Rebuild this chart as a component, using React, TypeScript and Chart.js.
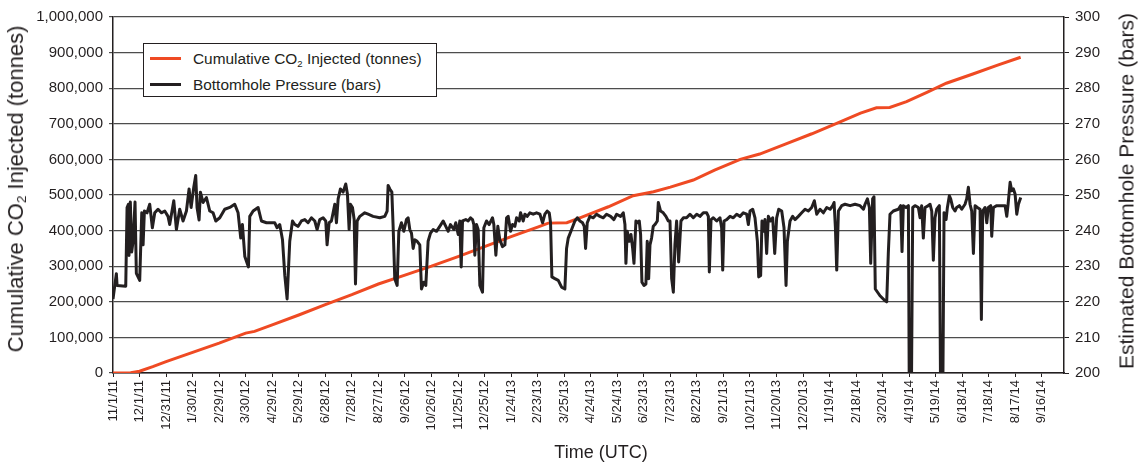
import React, { useEffect, useRef } from "react";
import { Chart, registerables } from "chart.js";

Chart.register(...registerables);

// x tick labels, one every 30 days starting 11/1/11 (day 0)
const xTickLabels = [
  "11/1/11", "12/1/11", "12/31/11", "1/30/12", "2/29/12", "3/30/12", "4/29/12", "5/29/12",
  "6/28/12", "7/28/12", "8/27/12", "9/26/12", "10/26/12", "11/25/12", "12/25/12", "1/24/13",
  "2/23/13", "3/25/13", "4/24/13", "5/24/13", "6/23/13", "7/23/13", "8/22/13", "9/21/13",
  "10/21/13", "11/20/13", "12/20/13", "1/19/14", "2/18/14", "3/20/14", "4/19/14", "5/19/14",
  "6/18/14", "7/18/14", "8/17/14", "9/16/14",
];

// Cumulative CO2 injected: [days since 11/1/11, tonnes]
const co2Series: [number, number][] = [
  [0, 0], [20, 1000], [30, 5000], [45, 18000], [60, 32000], [90, 58000], [120, 84000],
  [150, 112000], [160, 117000], [180, 135000], [210, 163000], [240, 192000], [270, 220000],
  [300, 250000], [330, 275000], [360, 300000], [390, 327000], [420, 355000], [450, 383000],
  [480, 410000], [492, 421000], [513, 422000], [530, 438000], [560, 467000], [588, 498000],
  [611, 509000], [630, 522000], [656, 542000], [680, 570000], [709, 600000], [731, 615000],
  [760, 643000], [790, 672000], [818, 701000], [845, 730000], [863, 745000], [878, 746000],
  [897, 762000], [920, 788000], [942, 814000], [972, 840000], [1000, 865000], [1026, 887000],
];

// Bottomhole pressure: [days since 11/1/11, bars]
const pressureSeries: [number, number][] = [
  [0, 220.8], [3.8, 227.9], [4.6, 224.6], [14.4, 224.4], [15.9, 246.5], [17.4, 247.4], [18.1, 233],
  [19.6, 248], [21.1, 234], [22.7, 237], [24.9, 248], [26.4, 228], [30.2, 226], [32.5, 245], [34, 236],
  [35.5, 245.5], [38.5, 245], [41.5, 247.4], [44.5, 240.8], [47.2, 245], [50.9, 246], [54.7, 245],
  [58.5, 245.5], [62.2, 244], [64.1, 241.7], [68.7, 248.4], [71.7, 240.3], [75.4, 246], [79.2, 242.7],
  [83, 245.5], [86, 251.7], [88.3, 246.5], [91.3, 252.2], [93.5, 255.5], [95, 246.5], [97.3, 243],
  [98.8, 250.8], [101.8, 247.9], [105.6, 249.3], [109.4, 245.5], [113.1, 245], [116.2, 242.7],
  [120.7, 243.6], [126.3, 246], [132, 246.5], [137.6, 247.4], [141.4, 245], [144.4, 237.9],
  [146.3, 241.7], [149, 232.7], [153.1, 229.8], [154.6, 244], [158.4, 245.5], [164, 246.5],
  [167.8, 242.7], [173.5, 242.2], [182.9, 242.2], [185.5, 240.8], [188.5, 241.7], [191.6, 237.4],
  [194.2, 227.4], [196.8, 220.8], [199.8, 237], [202.9, 242.7], [205.5, 241.7], [209.3, 241.2],
  [213, 242.7], [216.8, 243.1], [220.5, 242.2], [224.3, 243.6], [228.1, 242.7], [230.7, 240.3],
  [233.7, 243.1], [237.5, 243.6], [240.5, 242.7], [242, 236], [244.3, 242.2], [246.9, 242.7],
  [248.8, 245], [250.7, 247.4], [252.6, 242.2], [254.5, 248.9], [257.1, 251.7], [260.1, 250.8],
  [263.1, 253.1], [265, 250.3], [266.9, 240.3], [268.4, 247.4], [270.7, 246.5], [272.6, 243.1],
  [274.1, 225], [276, 242.7], [279, 244], [284.6, 245], [288.4, 244.6], [294, 244], [301.6, 243.6],
  [307.2, 244], [309.9, 245.5], [311, 252.7], [312.9, 251.7], [315.2, 250.8], [316.7, 240.8],
  [318.5, 226.5], [321.2, 224.6], [323.1, 239.8], [326.1, 242.2], [328.7, 239.8], [331.7, 243.1],
  [333.6, 243.6], [335.5, 240.3], [337.4, 239.3], [339.3, 235], [341.2, 237.4], [343.8, 237],
  [346.8, 236], [348.7, 223.6], [351.3, 225.5], [353.6, 224.6], [356.2, 237], [358.9, 239.3],
  [361.9, 240.3], [365.7, 239.8], [369.4, 241.2], [373.2, 242.7], [376.2, 241.2], [378.9, 239.8],
  [381.5, 241.7], [385.3, 240.3], [387.5, 242.2], [390.2, 238.9], [392, 242.7], [393.6, 229.8],
  [395.1, 242.7], [398.8, 243.1], [401.5, 242.7], [404.1, 243.6], [406.4, 243.1], [407.9, 241.7],
  [409, 233.1], [410.9, 241.7], [412.8, 240.3], [414.7, 224.6], [417.7, 222.7], [419.2, 240.8],
  [422.2, 242.7], [425.2, 241.7], [429, 243.6], [430.5, 241.7], [432.8, 233.1], [435, 241.2],
  [437.3, 237.4], [440.3, 235.5], [443, 236], [444.9, 243.6], [446.7, 244], [449.4, 239.8],
  [451.6, 241.7], [454.3, 241.2], [456.2, 243.6], [459.2, 242.7], [460.7, 245], [463.7, 242.7],
  [465.6, 244.6], [468.2, 244], [471.2, 245], [475, 244.6], [478.8, 245], [482.6, 244.6],
  [485.6, 242.2], [488.2, 244.6], [490.8, 245.5], [493.1, 245], [494.6, 242.2], [496.1, 227],
  [499.5, 226.5], [503.3, 226], [507.1, 224.1], [510.8, 223.6], [512.7, 235], [514.6, 237.9],
  [518.4, 240.3], [522.1, 242.7], [524.8, 243.6], [527.8, 242.7], [530.8, 242.2], [532.7, 241.2],
  [534.2, 235], [536.1, 242.2], [539.1, 244], [542.9, 243.6], [546.6, 244.6], [550.4, 244],
  [554.2, 243.6], [557.9, 244.6], [562.5, 244], [566.2, 243.1], [569.3, 244.6], [573.8, 244],
  [576.8, 245], [578.7, 241.7], [579.8, 230.8], [581.3, 239.8], [583.6, 237], [585.5, 238.9],
  [587.4, 235], [588.9, 230.8], [591.1, 242.7], [592.6, 242.2], [594.9, 242.7], [596.4, 238.9],
  [597.9, 225.5], [600.2, 224.6], [602.4, 225], [603.9, 237], [605.5, 226.5], [607, 236],
  [608.8, 237.9], [610.7, 241.2], [612.6, 241.7], [615.3, 242.7], [616.4, 247.9], [619, 245.5],
  [622, 245], [625, 244], [627.7, 242.7], [629.6, 242.7], [631.5, 226.5], [633.4, 222.7],
  [635.2, 236], [637.1, 242.7], [639.4, 231.2], [642, 242.7], [644.7, 243.6], [648.4, 243.6],
  [652.2, 244.6], [656, 243.6], [659.8, 244.6], [663.5, 244], [667.3, 245], [671.1, 245], [673, 244],
  [674.1, 228.4], [676, 243.1], [678.6, 243.6], [682.4, 242.7], [686.1, 243.6], [688, 240.8],
  [689.2, 228.9], [690.7, 242.7], [693.7, 243.1], [697.5, 244], [701.2, 243.6], [705, 244.6],
  [708.8, 244], [712.5, 245], [716.3, 244.6], [718.2, 241.7], [720.1, 245.5], [723.1, 246],
  [725.7, 243.6], [728.4, 237], [729.9, 227], [732.1, 227.4], [733.6, 242.7], [735.2, 239.8],
  [737, 243.1], [738.9, 233.6], [740.8, 244], [743.4, 242.7], [745.7, 243.6], [748, 233.6],
  [750.2, 243.6], [752.5, 246], [755.9, 245.5], [758.5, 240.8], [760.8, 224.6], [762.3, 237],
  [765.3, 242.7], [768.3, 244], [771, 243.1], [774.7, 244], [778.5, 245], [782.3, 246], [786, 245.5],
  [789.8, 246.5], [792.8, 248.4], [795.5, 244.6], [799.2, 246], [803, 245], [806.8, 246.5],
  [810.6, 246], [813.6, 247], [815.1, 247.9], [816.6, 240.8], [818.1, 228.9], [820, 245.5],
  [823.7, 247], [827.5, 247.4], [833.2, 247], [838.8, 247.4], [844.5, 247], [848.3, 246],
  [850.1, 247.4], [852.8, 248.9], [855, 246.5], [856.5, 230.8], [858.7, 248.9], [860.2, 249.5],
  [861.7, 223.6], [867, 221.7], [872.7, 220.3], [874.6, 220], [876.4, 233.6], [878.3, 244.6],
  [882.1, 245.5], [887.7, 246], [890.4, 247], [891.9, 234.1], [893.4, 247], [896.4, 246.5],
  [899.1, 247], [900.2, 190], [902.4, 190], [904, 246.5], [906.6, 247], [910.4, 246.5],
  [912.3, 243.6], [914.1, 247], [916, 237.9], [917.9, 246.5], [921.7, 247], [923.6, 247.4],
  [925.5, 245.5], [927.3, 231.7], [929.2, 243.6], [931.1, 246], [934.1, 247], [935.6, 190],
  [937.9, 190], [939.4, 245], [941.7, 243.1], [943.2, 246.5], [945.4, 249.8], [946.9, 248.9],
  [949.2, 246.5], [951.8, 245.5], [953.7, 246.5], [956.7, 247], [959.4, 246], [963.1, 247.4],
  [965, 248.9], [966.9, 252.2], [968.8, 247.4], [970.7, 245.5], [972.6, 233.6], [974.5, 247],
  [977.1, 246.5], [980.1, 246], [981.6, 215], [983.1, 245.5], [985.8, 246.5], [987.7, 242.2],
  [989.5, 246.5], [992.2, 247], [993.3, 238.4], [995.2, 246.5], [999, 247], [1004.6, 247],
  [1008.4, 247], [1010.3, 244], [1011.8, 247.4], [1014.1, 253.6], [1015.9, 251.2], [1017.8, 251.7],
  [1019.7, 250.3], [1021.6, 244.6], [1023.5, 247.4], [1026.1, 249.3],
];

const FONT = '"Liberation Sans", Arial, Helvetica, sans-serif';
const INK = "#231F20";
const RED = "#EF4A23";
const GRID = "#4d4d4d";

export default function App() {
  const ref = useRef<HTMLCanvasElement>(null);

  useEffect(() => {
    document.body.style.margin = "0";
    const chart = new Chart(ref.current!, {
      type: "line",
      data: {
        datasets: [
          {
            label: "Bottomhole Pressure (bars)",
            data: pressureSeries.map(([x, y]) => ({ x, y })),
            yAxisID: "yR",
            borderColor: INK,
            borderWidth: 3,
            pointRadius: 0,
            tension: 0,
            borderJoinStyle: "round",
          },
          {
            label: "Cumulative CO2 Injected (tonnes)",
            data: co2Series.map(([x, y]) => ({ x, y })),
            yAxisID: "yL",
            borderColor: RED,
            borderWidth: 3,
            pointRadius: 0,
            tension: 0,
          },
        ],
      },
      options: {
        responsive: false,
        animation: false,
        events: [],
        layout: { padding: { top: 17, left: 0, right: 0, bottom: 0 } },
        plugins: { legend: { display: false }, tooltip: { enabled: false } },
        scales: {
          x: {
            type: "linear",
            min: 0,
            max: 1075,
            afterBuildTicks: (s: any) => {
              s.ticks = xTickLabels.map((_, i) => ({ value: i * 30 }));
            },
            afterFit: (s: any) => {
              s.height = 90;
            },
            ticks: {
              autoSkip: false,
              maxRotation: 90,
              minRotation: 90,
              padding: 3,
              color: INK,
              font: { family: FONT, size: 13 },
              callback: (v: any) => xTickLabels[Math.round(Number(v) / 30)] ?? "",
            },
            grid: {
              drawOnChartArea: false,
              drawTicks: true,
              tickLength: 4,
              color: INK,
              lineWidth: 1,
            },
            border: { display: true, color: INK, width: 1.5 },
          },
          yL: {
            position: "left",
            min: 0,
            max: 1000000,
            afterBuildTicks: (s: any) => {
              s.ticks = Array.from({ length: 11 }, (_, i) => ({ value: i * 100000 }));
            },
            afterFit: (s: any) => {
              s.width = 113;
            },
            ticks: {
              padding: 6,
              color: INK,
              font: { family: FONT, size: 15 },
              callback: (v: any) => Number(v).toLocaleString("en-US"),
            },
            grid: { color: GRID, lineWidth: 1.2, tickLength: 4, drawTicks: true },
            border: { display: true, color: INK, width: 1.5 },
          },
          yR: {
            position: "right",
            min: 200,
            max: 300,
            afterBuildTicks: (s: any) => {
              s.ticks = Array.from({ length: 11 }, (_, i) => ({ value: 200 + i * 10 }));
            },
            afterFit: (s: any) => {
              s.width = 84;
            },
            ticks: {
              padding: 6,
              color: INK,
              font: { family: FONT, size: 15 },
            },
            grid: { drawOnChartArea: false, tickLength: 5, color: INK, lineWidth: 1 },
            border: { display: true, color: INK, width: 1.5 },
          },
        },
      },
    });
    return () => chart.destroy();
  }, []);

  const rot = (cx: number, cy: number, size: number): React.CSSProperties => ({
    position: "absolute",
    left: cx,
    top: cy,
    transform: "translate(-50%, -50%) rotate(-90deg)",
    whiteSpace: "nowrap",
    fontFamily: FONT,
    fontSize: size,
    color: INK,
    lineHeight: 1,
  });

  return (
    <div style={{ position: "relative", width: 1148, height: 463, background: "#fff", overflow: "hidden" }}>
      <canvas ref={ref} width={1148} height={463} style={{ position: "absolute", left: 0, top: 0 }} />
      <div style={rot(17, 189, 22)}>
        Cumulative CO<sub style={{ fontSize: "0.62em", verticalAlign: "-0.25em" }}>2</sub> Injected (tonnes)
      </div>
      <div style={rot(1126, 191, 21)}>Estimated Bottomhole Pressure (bars)</div>
      <div
        style={{
          position: "absolute",
          left: 601,
          top: 452,
          transform: "translate(-50%, -50%)",
          whiteSpace: "nowrap",
          fontFamily: FONT,
          fontSize: 18,
          color: INK,
          lineHeight: 1,
        }}
      >
        Time (UTC)
      </div>
      <div
        style={{
          position: "absolute",
          left: 143,
          top: 43,
          width: 294,
          height: 54,
          boxSizing: "border-box",
          border: `1px solid ${INK}`,
          background: "#fff",
          fontFamily: FONT,
          fontSize: 15.4,
          color: INK,
        }}
      >
        <div style={{ position: "absolute", left: 6, top: 13, width: 31, height: 3, background: RED }} />
        <div style={{ position: "absolute", left: 49, top: 6, whiteSpace: "nowrap", lineHeight: "17px" }}>
          Cumulative CO<sub style={{ fontSize: "0.62em", verticalAlign: "-0.3em", lineHeight: 0 }}>2</sub> Injected (tonnes)
        </div>
        <div style={{ position: "absolute", left: 6, top: 39, width: 31, height: 3, background: INK }} />
        <div style={{ position: "absolute", left: 49, top: 32, whiteSpace: "nowrap", lineHeight: "17px" }}>
          Bottomhole Pressure (bars)
        </div>
      </div>
    </div>
  );
}
